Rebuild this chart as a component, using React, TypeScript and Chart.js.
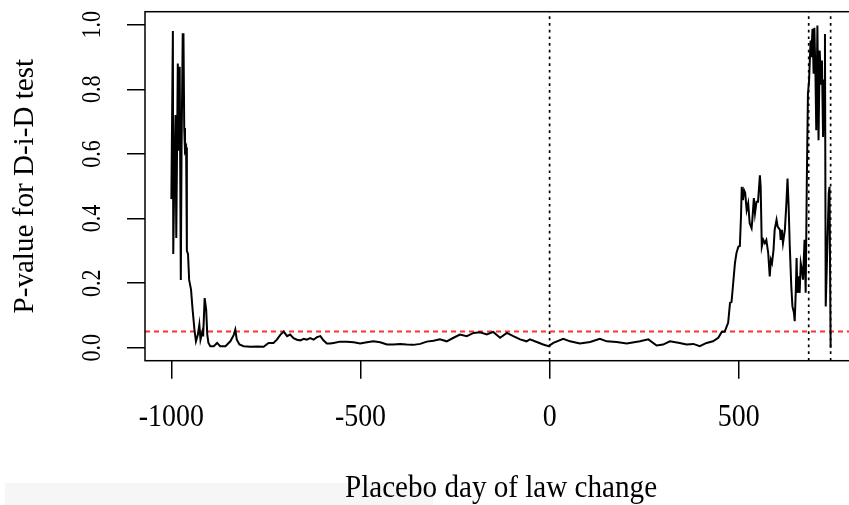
import React, { useEffect, useRef } from 'react';
import { Chart, registerables } from 'chart.js';

Chart.register(...registerables);

// ---- data ----
const days = [
  -1000, -996, -995, -992, -989, -987, -983, -981, -978, -975, -973, -970, -968, -966, -964, -961, -959, -956, -953,
  -948, -944, -939, -935, -930, -926, -923, -918, -916, -912, -908, -905, -902, -897, -888, -879, -871, -857, -844,
  -835, -831, -827, -820, -809, -791, -774, -756, -743, -730, -721, -712, -703, -694, -686, -677, -668, -659, -650,
  -642, -633, -624, -615, -606, -598, -589, -580, -571, -554, -536, -518, -501, -483, -466, -448, -430, -413, -395,
  -378, -360, -342, -325, -307, -290, -272, -254, -237, -219, -201, -184, -166, -149, -131, -113, -96, -78, -61,
  -52, -34, -17, -3, 10, 36, 54, 80, 107, 133, 151, 177, 204, 239, 261, 283, 300, 318, 344, 362, 380, 397, 415,
  432, 446, 455, 463, 472, 477, 481, 485, 490, 494, 499, 503, 506, 508, 511, 514, 517, 521, 525, 529, 534, 536,
  540, 543, 547, 551, 556, 558, 561, 565, 569, 573, 578, 582, 585, 588, 592, 595, 600, 603, 609, 611, 614, 617,
  622, 626, 629, 632, 635, 639, 642, 646, 648, 651, 653, 655, 658, 661, 664, 667, 670, 674, 677, 680, 683, 686,
  690, 692, 695, 698, 700, 703, 705, 708, 711, 714, 718, 720, 723, 726, 728, 730, 734, 738, 740, 743,
];
const pValues = [
  0.46, 0.98, 0.29, 0.55, 0.72, 0.34, 0.88, 0.61, 0.87, 0.21, 0.62, 0.97, 0.97, 0.68, 0.61, 0.62, 0.3, 0.29, 0.21,
  0.18, 0.12, 0.056, 0.02, 0.04, 0.072, 0.025, 0.05, 0.035, 0.154, 0.118, 0.04, 0.015, 0.005, 0.005, 0.015, 0.005, 0.005, 0.02,
  0.04, 0.056, 0.025, 0.01, 0.005, 0.003, 0.004, 0.003, 0.015, 0.015, 0.025, 0.04, 0.05, 0.036, 0.041, 0.03, 0.025, 0.023, 0.028,
  0.025, 0.03, 0.025, 0.033, 0.036, 0.023, 0.013, 0.013, 0.015, 0.019, 0.019, 0.017, 0.013, 0.017, 0.02, 0.017, 0.01, 0.01, 0.012,
  0.01, 0.009, 0.012, 0.019, 0.022, 0.026, 0.02, 0.031, 0.041, 0.036, 0.046, 0.048, 0.041, 0.049, 0.031, 0.046, 0.036, 0.026, 0.02,
  0.026, 0.018, 0.01, 0.005, 0.015, 0.028, 0.02, 0.013, 0.018, 0.028, 0.02, 0.018, 0.013, 0.02, 0.026, 0.007, 0.01, 0.02, 0.015, 0.01, 0.012, 0.005, 0.015,
  0.02, 0.031, 0.049, 0.05, 0.077, 0.139, 0.142, 0.195, 0.262, 0.293, 0.313, 0.315, 0.406, 0.498, 0.457, 0.488, 0.48, 0.426, 0.447, 0.385, 0.37, 0.396,
  0.463, 0.416, 0.452, 0.452, 0.534, 0.498, 0.313, 0.334, 0.324, 0.334, 0.293, 0.221, 0.272, 0.262, 0.303, 0.365, 0.396, 0.375, 0.365, 0.334, 0.365, 0.324,
  0.365, 0.447, 0.524, 0.437, 0.313, 0.19, 0.128, 0.108, 0.082, 0.18, 0.278, 0.17, 0.221, 0.17, 0.262, 0.242, 0.211, 0.334, 0.17, 0.514, 0.786, 0.827,
  0.951, 0.899, 0.987, 0.848, 0.99, 0.837, 0.673, 0.997, 0.642, 0.92, 0.817, 0.889, 0.652, 0.827, 0.971, 0.128, 0.3, 0.478, 0.498, 0.0,
];
const xTicks = [-1000, -500, 0, 500];
const xTickLabels = ['-1000', '-500', '0', '500'];
const yTicks = [0, 0.2, 0.4, 0.6, 0.8, 1.0];
const yTickLabels = ['0.0', '0.2', '0.4', '0.6', '0.8', '1.0'];
const thresholdP = 0.05;
const markerDays = [0, 685, 743];
const xTitle = 'Placebo day of law change';
const yTitle = 'P-value for D-i-D test';

const X_MIN = -1069.7;
const X_MAX = 812.7;
const Y_MIN = -0.04;
const Y_MAX = 1.04;

const FONT = '"Liberation Serif", "Times New Roman", serif';

function drawText(ctx: CanvasRenderingContext2D, text: string, x: number, y: number, size: number, sx: number, rot: number) {
  ctx.save();
  ctx.translate(x, y);
  ctx.rotate(rot);
  ctx.scale(sx, 1);
  ctx.font = `${size}px ${FONT}`;
  ctx.textAlign = 'center';
  ctx.textBaseline = 'alphabetic';
  ctx.fillStyle = '#000';
  ctx.fillText(text, 0, 0);
  ctx.restore();
}

const rPlot = {
  id: 'rPlot',
  beforeDraw(chart: any) {
    const ctx = chart.ctx as CanvasRenderingContext2D;
    ctx.save();
    ctx.fillStyle = '#ffffff';
    ctx.fillRect(0, 0, chart.width, chart.height);
    ctx.fillStyle = '#f6f6f6';
    ctx.fillRect(5, 483, 428, 22);
    ctx.restore();
  },
  afterDraw(chart: any) {
    const ctx = chart.ctx as CanvasRenderingContext2D;
    const a = chart.chartArea;
    const sx = chart.scales.x;
    const sy = chart.scales.y;
    ctx.save();
    ctx.strokeStyle = '#000';
    ctx.lineWidth = 1.5;
    ctx.strokeRect(a.left, a.top, a.right - a.left, a.bottom - a.top);
    ctx.restore();
    xTicks.forEach((v, i) => drawText(ctx, xTickLabels[i], sx.getPixelForValue(v), 426, 31, 0.9, 0));
    yTicks.forEach((v, i) => drawText(ctx, yTickLabels[i], 100, sy.getPixelForValue(v), 27.5, 0.8, -Math.PI / 2));
    drawText(ctx, xTitle, (a.left + a.right) / 2, 497, 32, 0.91, 0);
    drawText(ctx, yTitle, 33, (a.top + a.bottom) / 2, 30, 0.97, -Math.PI / 2);
  },
};

export default function App() {
  const ref = useRef<HTMLCanvasElement | null>(null);
  useEffect(() => {
    if (!ref.current) return;
    const mainData = days.map((d, i) => ({ x: d, y: pValues[i] }));
    const datasets: any[] = [
      {
        data: mainData,
        borderColor: '#000',
        borderWidth: 2,
        pointRadius: 0,
        tension: 0,
        fill: false,
      },
      {
        data: [
          { x: X_MIN, y: thresholdP },
          { x: X_MAX, y: thresholdP },
        ],
        borderColor: '#ff3030',
        borderWidth: 2,
        borderDash: [5, 4],
        pointRadius: 0,
        fill: false,
      },
      ...markerDays.map((d) => ({
        data: [
          { x: d, y: Y_MIN },
          { x: d, y: Y_MAX },
        ],
        borderColor: '#000',
        borderWidth: 1.7,
        borderDash: [2.7, 4],
        pointRadius: 0,
        fill: false,
      })),
    ];
    const chart = new Chart(ref.current, {
      type: 'line',
      data: { datasets },
      plugins: [rPlot],
      options: {
        animation: false,
        responsive: false,
        events: [],
        layout: { padding: { top: 11.7, right: 13, left: 0, bottom: 0 } },
        plugins: { legend: { display: false }, tooltip: { enabled: false } },
        scales: {
          x: {
            type: 'linear',
            min: X_MIN,
            max: X_MAX,
            afterBuildTicks: (s: any) => {
              s.ticks = xTicks.map((v) => ({ value: v }));
            },
            afterFit: (s: any) => {
              s.height = 144.3;
            },
            ticks: { display: false },
            grid: { drawOnChartArea: false, drawTicks: true, tickLength: 18, color: '#000', lineWidth: 1.5 },
            border: { display: false },
          },
          y: {
            type: 'linear',
            min: Y_MIN,
            max: Y_MAX,
            afterBuildTicks: (s: any) => {
              s.ticks = yTicks.map((v) => ({ value: v }));
            },
            afterFit: (s: any) => {
              s.width = 145;
            },
            ticks: { display: false },
            grid: { drawOnChartArea: false, drawTicks: true, tickLength: 18, color: '#000', lineWidth: 1.5 },
            border: { display: false },
          },
        },
      },
    });
    return () => chart.destroy();
  }, []);
  return (
    <div style={{ position: 'fixed', left: 0, top: 0, width: 849, height: 505, overflow: 'hidden', background: '#fff' }}>
      <canvas ref={ref} width={870} height={505} style={{ display: 'block', width: 870, height: 505 }} />
    </div>
  );
}
